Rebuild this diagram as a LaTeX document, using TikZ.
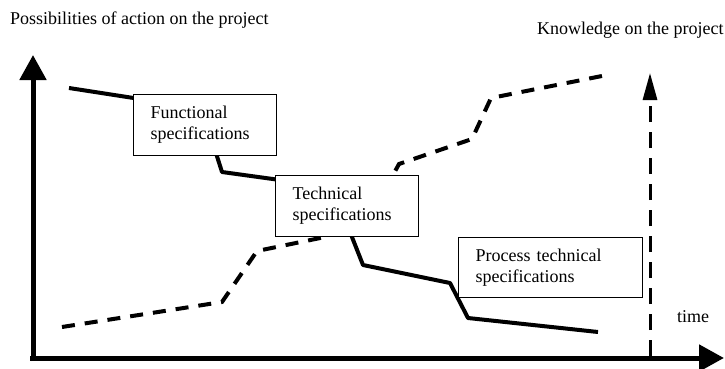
\documentclass[tikz,border=0pt]{standalone}
\usepackage{fontspec}
\setmainfont{Liberation Serif}
\usetikzlibrary{arrows.meta}

\begin{document}
\begin{tikzpicture}[x=1pt, y=-1pt,
    every node/.style={font=\fontsize{18}{21}\selectfont},
    specbox/.style={draw, line width=1.2pt, fill=white, anchor=north west,
      align=left, inner xsep=17pt, minimum height=61pt},
    solidline/.style={line width=4pt, line join=round},
    dashline/.style={line width=4pt, dash pattern=on 13pt off 10pt},
    axis/.style={line width=5pt, -{Triangle[length=25pt, width=26pt]}},
    limit/.style={line width=3pt, dash pattern=on 16pt off 10pt,
      -{Triangle[length=27pt, width=14pt]}}]
      \useasboundingbox (0,0) rectangle (725,369);
      %
      \coordinate (o) at (33,358);             % axes
      \coordinate (ytip) at (33,55);
      \coordinate (xtip) at (724,358);
      \draw[axis] (33,361) -- (ytip);
      \draw[axis] (30,358) -- (xtip);
      %
      \coordinate (lbot) at (650,356);         % end of the project
      \coordinate (ltip) at (650,73);
      \draw[limit] (lbot) -- (ltip);
      %
      \coordinate (k0) at (62,327);            % knowledge
      \coordinate (k1) at (222,302);
      \coordinate (k2) at (257,251);
      \coordinate (k3) at (330,236);
      \coordinate (k4) at (393,175);
      \coordinate (k5) at (399,164);
      \coordinate (k6) at (472,139);
      \coordinate (k7) at (491,98);
      \coordinate (k8) at (607,75);
      \draw[dashline] (k0) -- (k1) -- (k2) -- (k3) -- (k4) -- (k5) -- (k6) -- (k7) -- (k8);
      %
      \coordinate (s0) at (69,88);             % possibilities
      \coordinate (s1) at (140,99);
      \coordinate (s2) at (215,150);
      \coordinate (s3) at (222,172);
      \coordinate (s4) at (280,180);
      \coordinate (s5) at (350,232);
      \coordinate (s6) at (363,265);
      \coordinate (s7) at (450,283);
      \coordinate (s8) at (468,318);
      \coordinate (s9) at (598,332);
      \draw[solidline] (s0) -- (s1) -- (s2) -- (s3) -- (s4) -- (s5) -- (s6) -- (s7) -- (s8) -- (s9);
      %
      \node[specbox, text width=109pt] (func) at (133,94)
        {Functional\\specifications};          % boxes
      \node[specbox, text width=109pt] (tech) at (275,175)
        {Technical\\specifications};
      \node[specbox, text width=150pt, minimum height=60pt] (proc) at (458,237)
        {Process technical\\specifications};
      %
      \node[anchor=base west, inner sep=0pt] (ylab) at (10,25)
        {Possibilities of action on the project};
      \node[anchor=base west, inner sep=0pt] (klab) at (537,35)
        {Knowledge on the project};
      \node[anchor=base west, inner sep=0pt] (tlab) at (677,322) {time};
      %
\end{tikzpicture}
\end{document}
